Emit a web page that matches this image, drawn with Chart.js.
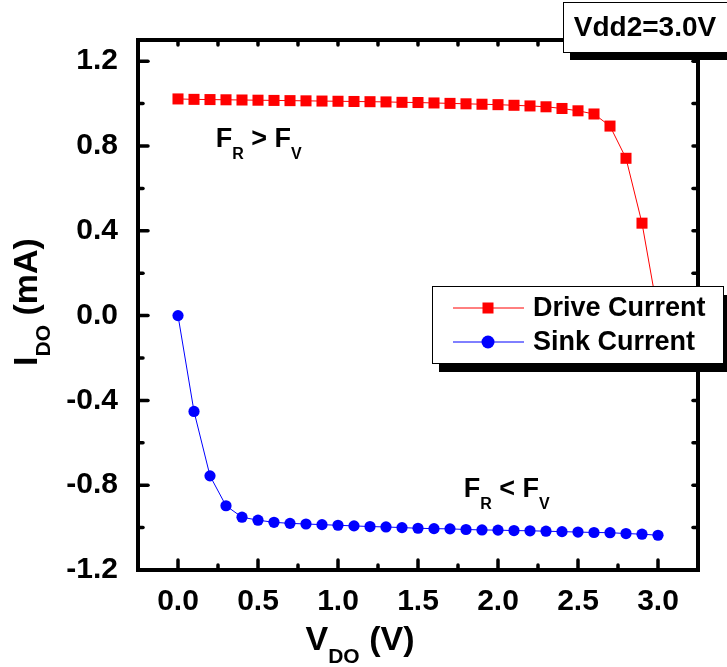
<!DOCTYPE html>
<html>
<head>
<meta charset="utf-8">
<script src="https://cdn.jsdelivr.net/npm/chart.js@4.4.1/dist/chart.umd.min.js"></script>
<style>
  html, body { margin: 0; padding: 0; background: #fff; }
  #wrap { width: 727px; height: 667px; }
</style>
</head>
<body>
<div id="wrap"><canvas id="ivChart"></canvas></div>
<script>
// I-V data (V_DO in volts, I_DO in mA)
const voltages = [0.0, 0.1, 0.2, 0.3, 0.4, 0.5, 0.6, 0.7, 0.8, 0.9, 1.0,
  1.1, 1.2, 1.3, 1.4, 1.5, 1.6, 1.7, 1.8, 1.9, 2.0,
  2.1, 2.2, 2.3, 2.4, 2.5, 2.6, 2.7, 2.8, 2.9, 3.0];
const driveCurrent = [1.022, 1.020, 1.019, 1.018, 1.017, 1.016, 1.015, 1.014, 1.013, 1.012, 1.011,
  1.010, 1.009, 1.008, 1.006, 1.005, 1.003, 1.001, 0.999, 0.997, 0.995,
  0.992, 0.989, 0.985, 0.977, 0.966, 0.951, 0.894, 0.742, 0.436, 0.01];
const sinkCurrent = [0.0, -0.452, -0.756, -0.897, -0.951, -0.965, -0.975, -0.980, -0.983, -0.986, -0.989,
  -0.992, -0.995, -0.997, -1.000, -1.003, -1.005, -1.006, -1.009, -1.011, -1.012,
  -1.014, -1.015, -1.017, -1.019, -1.021, -1.023, -1.024, -1.028, -1.031, -1.036];

const xTickValues = [0, 0.5, 1.0, 1.5, 2.0, 2.5, 3.0];
const xMinorValues = [0.25, 0.75, 1.25, 1.75, 2.25, 2.75];
const yTickValues = [-1.2, -0.8, -0.4, 0, 0.4, 0.8, 1.2];
const yMinorValues = [-1.0, -0.6, -0.2, 0.2, 0.6, 1.0];

const FONT = '"Liberation Sans", Arial, sans-serif';

// draws a run of text pieces, some of them subscripts
function drawRun(ctx, x, y, parts) {
  let cx = x;
  parts.forEach((p) => {
    ctx.font = "bold " + p.size + "px " + FONT;
    ctx.fillText(p.t, cx, y + (p.dy || 0));
    cx += ctx.measureText(p.t).width;
  });
}
function runWidth(ctx, parts) {
  let w = 0;
  parts.forEach((p) => {
    ctx.font = "bold " + p.size + "px " + FONT;
    w += ctx.measureText(p.t).width;
  });
  return w;
}

// frame with inward ticks on all four sides
const framePlugin = {
  id: "frame",
  afterDatasetsDraw(chart) {
    const { ctx, chartArea: a, scales } = chart;
    const x = scales.x, y = scales.y;
    ctx.save();
    ctx.strokeStyle = "#000";
    ctx.lineCap = "round";
    ctx.lineWidth = 3.5;
    const seg = (x1, y1, x2, y2) => {
      ctx.beginPath();
      ctx.moveTo(x1, y1);
      ctx.lineTo(x2, y2);
      ctx.stroke();
    };
    xTickValues.forEach((v) => {
      const px = x.getPixelForValue(v);
      seg(px, a.bottom, px, a.bottom - 10);
      seg(px, a.top, px, a.top + 5);
    });
    xMinorValues.forEach((v) => {
      const px = x.getPixelForValue(v);
      seg(px, a.bottom, px, a.bottom - 5);
      seg(px, a.top, px, a.top + 5);
    });
    yTickValues.forEach((v) => {
      const py = y.getPixelForValue(v);
      seg(a.left, py, a.left + 10, py);
      seg(a.right, py, a.right - 5, py);
    });
    yMinorValues.forEach((v) => {
      const py = y.getPixelForValue(v);
      seg(a.left, py, a.left + 5, py);
      seg(a.right, py, a.right - 5, py);
    });
    ctx.lineCap = "butt";
    ctx.lineWidth = 4;
    ctx.strokeRect(a.left, a.top, a.right - a.left, a.bottom - a.top);
    ctx.restore();
  },
};

// axis titles, annotations, legend and the Vdd2 label
const extrasPlugin = {
  id: "extras",
  afterDraw(chart) {
    const { ctx, scales } = chart;
    const x = scales.x, y = scales.y;
    ctx.save();
    ctx.fillStyle = "#000";
    ctx.textBaseline = "alphabetic";
    ctx.textAlign = "left";

    // F_R > F_V and F_R < F_V
    const above = [
      { t: "F", size: 27 }, { t: "R", size: 16, dy: 11.5 },
      { t: " > ", size: 27 }, { t: "F", size: 27 }, { t: "V", size: 16, dy: 11.5 },
    ];
    const below = [
      { t: "F", size: 27 }, { t: "R", size: 16, dy: 11.5 },
      { t: " < ", size: 27 }, { t: "F", size: 27 }, { t: "V", size: 16, dy: 11.5 },
    ];
    drawRun(ctx, x.getPixelForValue(0.236), y.getPixelForValue(0.795), above);
    drawRun(ctx, x.getPixelForValue(1.786), y.getPixelForValue(-0.858), below);

    // x title
    const xt = [
      { t: "V", size: 34 }, { t: "DO", size: 21, dy: 13 }, { t: " (V)", size: 34 },
    ];
    drawRun(ctx, 360 - runWidth(ctx, xt) / 2, 650, xt);

    // y title, rotated
    const yt = [
      { t: "I", size: 34 }, { t: "DO", size: 21, dy: 13 }, { t: " (mA)", size: 34 },
    ];
    ctx.save();
    ctx.translate(37, 302);
    ctx.rotate(-Math.PI / 2);
    drawRun(ctx, -runWidth(ctx, yt) / 2, 0, yt);
    ctx.restore();

    // legend box with drop shadow
    const lx = 432, ly = 286, lw = 291, lh = 77;
    ctx.fillStyle = "#000";
    ctx.fillRect(lx + 7, ly + 9, lw, lh);
    ctx.fillStyle = "#fff";
    ctx.fillRect(lx, ly, lw, lh);
    ctx.lineWidth = 1;
    ctx.strokeStyle = "#000";
    ctx.strokeRect(lx + 0.5, ly + 0.5, lw, lh);
    const rows = [
      { label: "Drive Current", color: "#ff0000", style: "rect", yy: ly + 22 },
      { label: "Sink Current", color: "#0000ff", style: "circle", yy: ly + 56 },
    ];
    rows.forEach((r) => {
      ctx.strokeStyle = r.color;
      ctx.lineWidth = 1;
      ctx.beginPath();
      ctx.moveTo(lx + 21, r.yy);
      ctx.lineTo(lx + 92, r.yy);
      ctx.stroke();
      ctx.fillStyle = r.color;
      if (r.style === "rect") {
        ctx.fillRect(lx + 56 - 5.5, r.yy - 5.5, 11, 11);
      } else {
        ctx.beginPath();
        ctx.arc(lx + 56, r.yy, 6.5, 0, Math.PI * 2);
        ctx.fill();
      }
      ctx.fillStyle = "#000";
      ctx.font = "bold 27px " + FONT;
      ctx.textBaseline = "middle";
      ctx.fillText(r.label, lx + 101, r.yy + 1);
    });

    // Vdd2 label box with drop shadow
    const bx = 563, by = 2, bw = 180, bh = 50;
    ctx.fillStyle = "#000";
    ctx.fillRect(bx + 7, by + 8, bw, bh);
    ctx.fillStyle = "#fff";
    ctx.fillRect(bx, by, bw, bh);
    ctx.strokeStyle = "#000";
    ctx.lineWidth = 1;
    ctx.strokeRect(bx + 0.5, by + 0.5, bw, bh);
    ctx.fillStyle = "#000";
    ctx.font = "bold 28px " + FONT;
    ctx.textAlign = "center";
    ctx.textBaseline = "middle";
    ctx.fillText("Vdd2=3.0V", 645, 28);
    ctx.restore();
  },
};

const tickFont = { family: FONT, size: 30, weight: "bold" };

new Chart(document.getElementById("ivChart"), {
  type: "line",
  data: {
    datasets: [
      {
        label: "Drive Current",
        data: voltages.map((v, i) => ({ x: v, y: driveCurrent[i] })),
        borderColor: "#ff0000",
        backgroundColor: "#ff0000",
        borderWidth: 1,
        pointStyle: "rect",
        pointRadius: 7.8,
        pointBorderWidth: 0,
        tension: 0,
      },
      {
        label: "Sink Current",
        data: voltages.map((v, i) => ({ x: v, y: sinkCurrent[i] })),
        borderColor: "#0000ff",
        backgroundColor: "#0000ff",
        borderWidth: 1,
        pointStyle: "circle",
        pointRadius: 5.6,
        pointBorderWidth: 0,
        tension: 0,
      },
    ],
  },
  options: {
    responsive: true,
    maintainAspectRatio: false,
    animation: false,
    layout: { padding: { top: 40, right: 29, left: 0, bottom: 0 } },
    plugins: {
      legend: { display: false },
      tooltip: { enabled: false },
    },
    scales: {
      x: {
        type: "linear",
        min: -0.25,
        max: 3.25,
        afterBuildTicks: (s) => {
          s.ticks = xTickValues.map((v) => ({ value: v }));
        },
        afterFit: (s) => {
          s.height = 97;
        },
        grid: { display: false },
        border: { display: false },
        ticks: {
          color: "#000",
          font: tickFont,
          padding: 6,
          autoSkip: false,
          maxRotation: 0,
          callback: (v) => Number(v).toFixed(1),
        },
      },
      y: {
        type: "linear",
        min: -1.2,
        max: 1.3,
        afterBuildTicks: (s) => {
          s.ticks = yTickValues.map((v) => ({ value: v }));
        },
        afterFit: (s) => {
          s.width = 138;
        },
        grid: { display: false },
        border: { display: false },
        ticks: {
          color: "#000",
          font: tickFont,
          padding: 12,
          autoSkip: false,
          callback: (v) => Number(v).toFixed(1),
        },
      },
    },
  },
  plugins: [framePlugin, extrasPlugin],
});
</script>
</body>
</html>
